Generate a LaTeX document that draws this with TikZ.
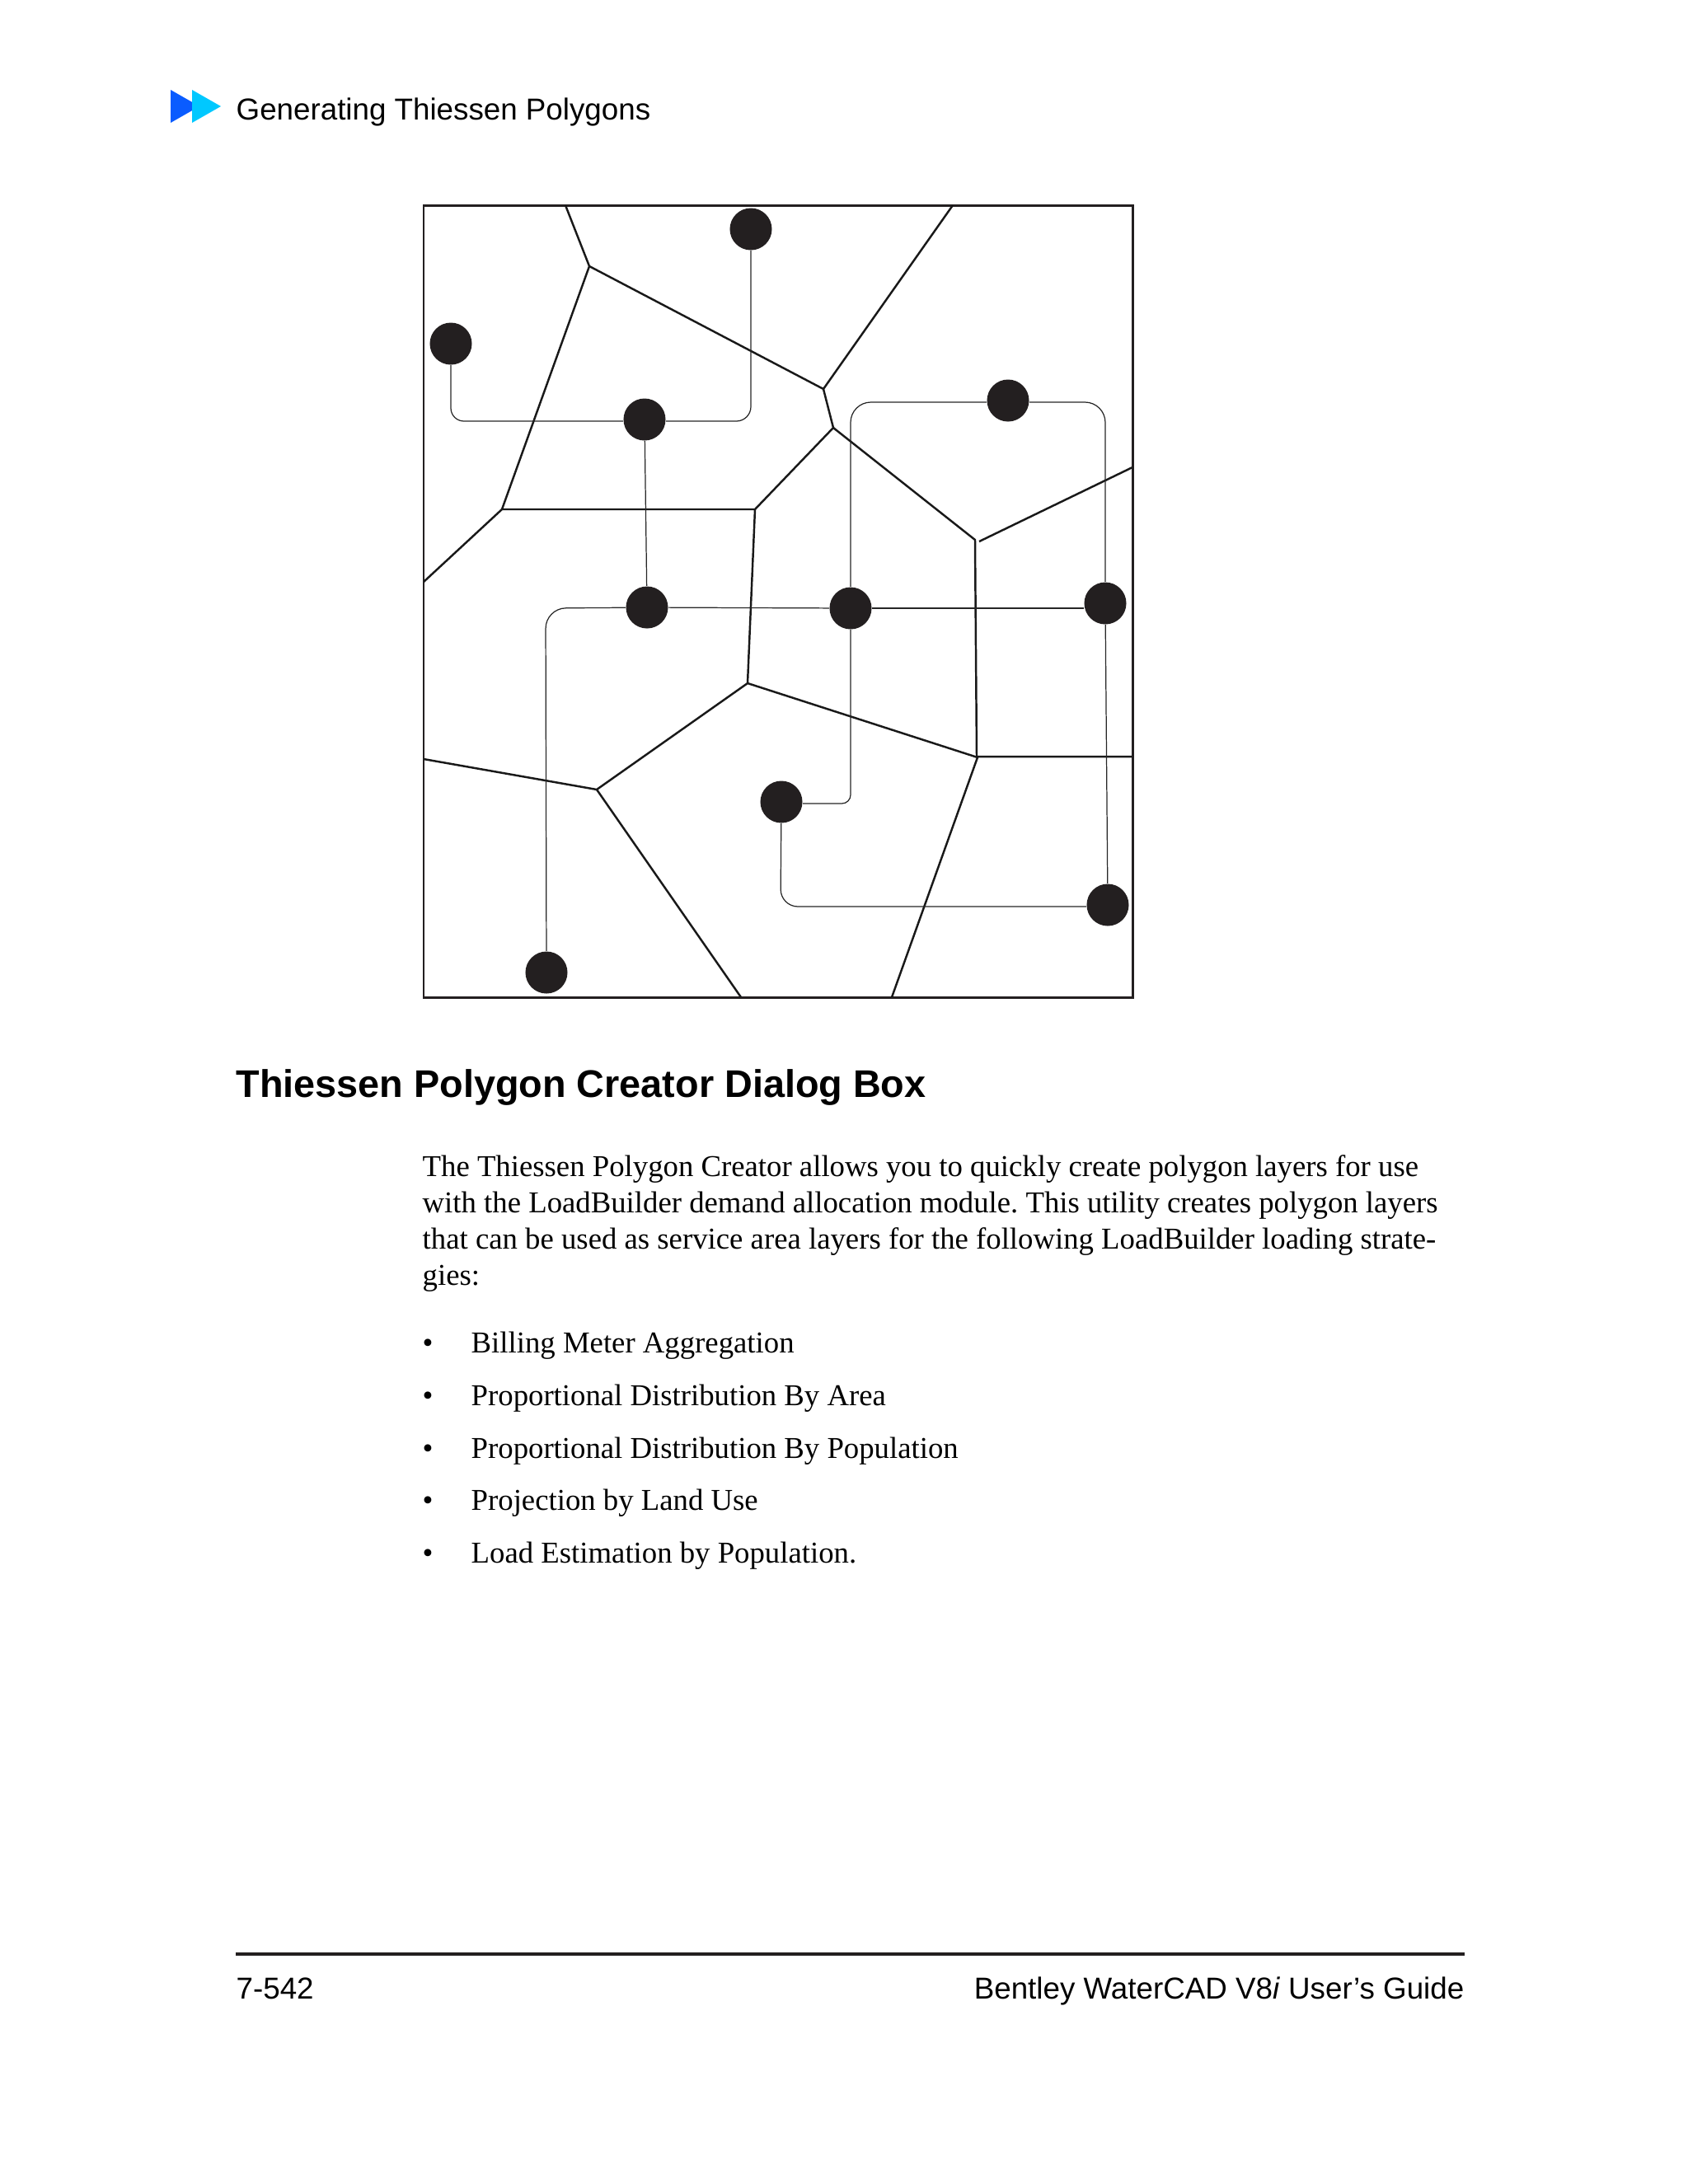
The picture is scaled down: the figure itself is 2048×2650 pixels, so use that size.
\documentclass[tikz,border=0pt]{standalone}
\usepackage{fontspec}
\setmainfont{Liberation Serif}
\setsansfont{Liberation Sans}
\frenchspacing
\definecolor{dotblack}{HTML}{231F20}
\definecolor{iconblue}{HTML}{0A5CFF}
\definecolor{iconcyan}{HTML}{00C8FF}
\begin{document}
\begin{tikzpicture}[
  x=0.01cm, y=-0.01cm,
  frame/.style={draw=dotblack, line width=0.85pt},
  edgeline/.style={draw=black!90, line width=0.7pt},
  conn/.style={draw=black!85, line width=0.35pt},
  site/.style={circle, fill=dotblack, inner sep=0pt, minimum size=0.51cm},
  bodytext/.style={anchor=base west, inner sep=0pt, font=\fontsize{10.45}{12.5}\selectfont},
  pagetext/.style={anchor=base west, inner sep=0pt, font=\sffamily\fontsize{10.45}{12.5}\selectfont},
  headtext/.style={anchor=base west, inner sep=0pt, font=\sffamily\bfseries\fontsize{13.3}{16}\selectfont},
]
\useasboundingbox (0,0) rectangle (2048,2650);

% Page header
\fill[iconblue] (207,109) -- (207,149) -- (242,129) -- cycle;
\fill[iconcyan] (233,109) -- (233,149) -- (268,129) -- cycle;
\node[pagetext] (header) at (286,145) {Generating Thiessen Polygons};

% Frame and polygon corners
\draw[frame] (514,249) rectangle (1374,1210);

\coordinate (pa) at (686,249);
\coordinate (pb) at (715,323);
\coordinate (pc) at (609,618);
\coordinate (pd) at (514,706);
\coordinate (pe) at (999,472);
\coordinate (pf) at (1156,249);
\coordinate (pg) at (1011,519);
\coordinate (ph) at (916,618);
\coordinate (pi) at (1183,655);
\coordinate (pj) at (1188,657);
\coordinate (pk) at (1374,567);
\coordinate (pl) at (907,829);
\coordinate (pm) at (1186,919);
\coordinate (pn) at (1374,918);
\coordinate (pt) at (1185,918);
\coordinate (po) at (724,958);
\coordinate (pp) at (514,921);
\coordinate (pq) at (899,1210);
\coordinate (pr) at (1082,1210);

% Polygon edges
\draw[edgeline] (pa) -- (pb) -- (pc) -- (pd);
\draw[edgeline] (pb) -- (pe) -- (pf);
\draw[edgeline] (pe) -- (pg) -- (ph) -- (pc);
\draw[edgeline] (pg) -- (pi) -- (pt) -- (pn);
\draw[edgeline] (pj) -- (pk);
\draw[edgeline] (ph) -- (pl) -- (pm) -- (pr);
\draw[edgeline] (pl) -- (po) -- (pp);
\draw[edgeline] (po) -- (pq);

% Sites
\node[site] (s1) at (911,278) {};
\node[site] (s2) at (547,417) {};
\node[site] (s3) at (782,509) {};
\node[site] (s4) at (1223,486) {};
\node[site] (s5) at (785,737) {};
\node[site] (s6) at (1032,738) {};
\node[site] (s7) at (1341,732) {};
\node[site] (s8) at (948,973) {};
\node[site] (s9) at (1344,1098) {};
\node[site] (s10) at (663,1180) {};

% Bends of the network
\coordinate (b1) at (547,511);
\coordinate (b2) at (911,511);
\coordinate (b3) at (662,738);
\coordinate (b4) at (1032,488);
\coordinate (b5) at (1341,488);
\coordinate (b6) at (1032,975);
\coordinate (b7) at (947,1100);

% Network
\draw[conn, rounded corners=4.5pt] (s2) -- (b1) -- (s3.west |- b1);
\draw[conn, rounded corners=5pt] (s3.east |- b1) -- (b2) -- (s1);
\draw[conn] (s3) -- (s5);
\draw[conn, rounded corners=7pt] (s10) -- (b3) -- (s5);
\draw[conn] (s5) -- (s6);
\draw[conn] (s6) -- (s7.west |- s6);
\draw[conn, rounded corners=7pt] (s6) -- (b4) -- (s4.west |- b4);
\draw[conn, rounded corners=7pt] (s4.east |- b5) -- (b5) -- (s7);
\draw[conn] (s7) -- (s9);
\draw[conn, rounded corners=3pt] (s6) -- (b6) -- (s8.east |- b6);
\draw[conn, rounded corners=6pt] (s8) -- (b7) -- (s9.west |- b7);

% Section text
\node[headtext] (title) at (286,1331) {Thiessen Polygon Creator Dialog Box};

\node[bodytext] (line1) at (512,1427) {The Thiessen Polygon Creator allows you to quickly create polygon layers for use};
\node[bodytext] (line2) at (512,1471) {with the LoadBuilder demand allocation module. This utility creates polygon layers};
\node[bodytext] (line3) at (512,1515) {that can be used as service area layers for the following LoadBuilder loading strate-};
\node[bodytext] (line4) at (512,1559) {gies:};

\node[bodytext] (mark1) at (512,1641) {•};
\node[bodytext] (item1) at (571,1641) {Billing Meter Aggregation};
\node[bodytext] (mark2) at (512,1705) {•};
\node[bodytext] (item2) at (571,1705) {Proportional Distribution By Area};
\node[bodytext] (mark3) at (512,1769) {•};
\node[bodytext] (item3) at (571,1769) {Proportional Distribution By Population};
\node[bodytext] (mark4) at (512,1832) {•};
\node[bodytext] (item4) at (571,1832) {Projection by Land Use};
\node[bodytext] (mark5) at (512,1896) {•};
\node[bodytext] (item5) at (571,1896) {Load Estimation by Population.};

% Page footer
\coordinate (ruleL) at (286,2371);
\coordinate (ruleR) at (1777,2371);
\draw[frame, line width=1pt] (ruleL) -- (ruleR);
\node[pagetext] (pagenum) at (286,2425) {7-542};
\node[pagetext, anchor=base east] (guide) at (1777,2425) {Bentley WaterCAD V8\textit{i} User’s Guide};

\end{tikzpicture}
\end{document}
